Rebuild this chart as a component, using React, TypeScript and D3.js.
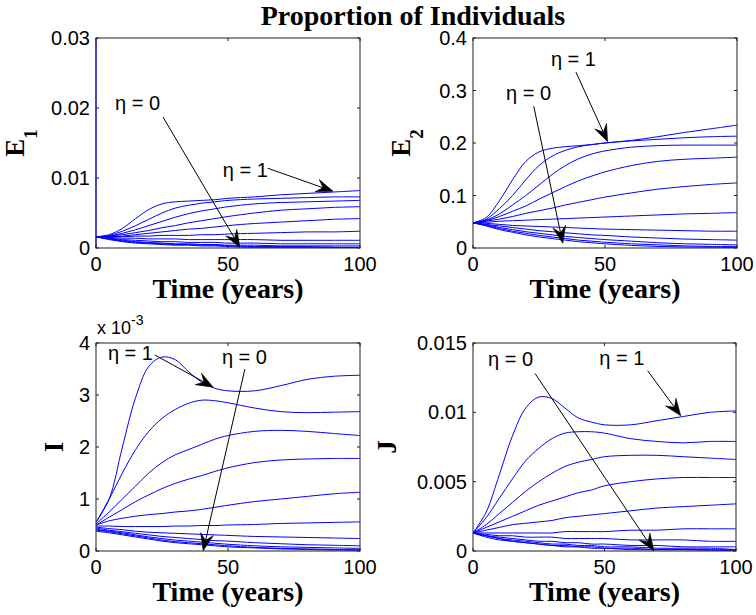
import React from "react";
import * as d3 from "d3";

// ---------- data ----------
const TIME = [0, 5, 10, 15, 20, 25, 30, 35, 40, 45, 50, 60, 70, 80, 90, 100];
const X_TICKS = [0, 50, 100];

// each series: eta = 1, 0.9, ..., 0
const E1_SERIES = [
  [0.0016, 0.0019, 0.0028, 0.0042, 0.0055, 0.0063, 0.0066, 0.0067, 0.0068, 0.0069, 0.0071, 0.0073, 0.0076, 0.0078, 0.008, 0.0082],
  [0.0016, 0.0018, 0.0024, 0.0032, 0.0041, 0.005, 0.0057, 0.0061, 0.0064, 0.0066, 0.0068, 0.007, 0.0071, 0.0072, 0.0073, 0.0073],
  [0.0016, 0.0017, 0.0021, 0.0026, 0.0032, 0.0038, 0.0044, 0.0049, 0.0053, 0.0056, 0.0059, 0.0063, 0.0065, 0.0066, 0.0067, 0.0068],
  [0.0016, 0.0017, 0.0019, 0.0022, 0.0025, 0.0029, 0.0032, 0.0036, 0.0039, 0.0042, 0.0045, 0.005, 0.0054, 0.0056, 0.0058, 0.0059],
  [0.0016, 0.0016, 0.0017, 0.0019, 0.0021, 0.0023, 0.0025, 0.0027, 0.0028, 0.003, 0.0032, 0.0035, 0.0037, 0.0039, 0.0041, 0.0042],
  [0.0016, 0.0016, 0.0016, 0.0017, 0.0017, 0.0018, 0.0018, 0.0018, 0.0019, 0.0019, 0.002, 0.0021, 0.0022, 0.0023, 0.0023, 0.0024],
  [0.0016, 0.0015, 0.0014, 0.0014, 0.0013, 0.0013, 0.0013, 0.0012, 0.0012, 0.0012, 0.0012, 0.0012, 0.0011, 0.0011, 0.0011, 0.0011],
  [0.0016, 0.0014, 0.0012, 0.0011, 0.001, 0.0009, 0.0009, 0.0008, 0.0008, 0.0008, 0.0007, 0.0007, 0.0006, 0.0006, 0.0006, 0.0006],
  [0.0016, 0.0013, 0.0011, 0.0009, 0.0008, 0.0007, 0.0006, 0.0006, 0.0005, 0.0005, 0.0004, 0.0004, 0.0003, 0.0003, 0.0003, 0.0003],
  [0.0016, 0.0013, 0.001, 0.0008, 0.0007, 0.0006, 0.0005, 0.0005, 0.0004, 0.0004, 0.0003, 0.0002, 0.0002, 0.0002, 0.0001, 0.0001],
  [0.0016, 0.0012, 0.0009, 0.0007, 0.0006, 0.0005, 0.0004, 0.0004, 0.0003, 0.0003, 0.0002, 0.0001, 0.0001, 0.0001, 0.0001, 0.00005],
];
const E1_TICKS = [0, 0.01, 0.02, 0.03];

const E2_SERIES = [
  [0.048, 0.058, 0.09, 0.13, 0.165, 0.183, 0.19, 0.193, 0.195, 0.197, 0.2, 0.205, 0.212, 0.22, 0.227, 0.234],
  [0.048, 0.055, 0.075, 0.1, 0.13, 0.157, 0.175, 0.186, 0.193, 0.197, 0.2, 0.204, 0.207, 0.21, 0.212, 0.213],
  [0.048, 0.053, 0.065, 0.082, 0.1, 0.12, 0.14, 0.157, 0.17, 0.179, 0.185, 0.192, 0.195, 0.196, 0.196, 0.196],
  [0.048, 0.052, 0.06, 0.07, 0.08, 0.093, 0.105, 0.117, 0.128, 0.137, 0.145, 0.157, 0.165, 0.169, 0.171, 0.173],
  [0.048, 0.051, 0.055, 0.06, 0.066, 0.071, 0.076, 0.082, 0.087, 0.092, 0.097, 0.105, 0.112, 0.117, 0.121, 0.124],
  [0.048, 0.049, 0.051, 0.052, 0.053, 0.054, 0.055, 0.056, 0.057, 0.058, 0.059, 0.061, 0.063, 0.065, 0.066, 0.0675],
  [0.048, 0.047, 0.045, 0.043, 0.042, 0.041, 0.04, 0.039, 0.038, 0.037, 0.036, 0.035, 0.034, 0.033, 0.032, 0.032],
  [0.048, 0.045, 0.042, 0.039, 0.036, 0.033, 0.031, 0.029, 0.027, 0.025, 0.024, 0.021, 0.019, 0.017, 0.016, 0.015],
  [0.048, 0.044, 0.039, 0.035, 0.031, 0.028, 0.025, 0.022, 0.02, 0.018, 0.016, 0.013, 0.01, 0.008, 0.007, 0.006],
  [0.048, 0.043, 0.037, 0.032, 0.028, 0.024, 0.021, 0.018, 0.015, 0.013, 0.011, 0.008, 0.006, 0.004, 0.003, 0.003],
  [0.048, 0.042, 0.035, 0.03, 0.025, 0.021, 0.018, 0.015, 0.012, 0.01, 0.008, 0.005, 0.003, 0.002, 0.0015, 0.001],
];
const E2_TICKS = [0, 0.1, 0.2, 0.3, 0.4];

// I values in units of 1e-3
const I_SERIES = [
  [0.55, 1.0, 2.0, 2.95, 3.55, 3.73, 3.68, 3.45, 3.25, 3.13, 3.08, 3.08, 3.18, 3.3, 3.36, 3.38],
  [0.55, 1.0, 1.5, 1.95, 2.3, 2.55, 2.72, 2.84, 2.9, 2.89, 2.85, 2.75, 2.68, 2.66, 2.67, 2.68],
  [0.52, 0.75, 1.0, 1.25, 1.5, 1.7, 1.85, 1.95, 2.05, 2.15, 2.22, 2.3, 2.32, 2.3, 2.26, 2.22],
  [0.5, 0.65, 0.8, 0.95, 1.08, 1.2, 1.3, 1.38, 1.45, 1.53, 1.6, 1.7, 1.75, 1.77, 1.78, 1.78],
  [0.5, 0.58, 0.63, 0.67, 0.7, 0.72, 0.75, 0.77, 0.8, 0.84, 0.88, 0.95, 1.0, 1.05, 1.1, 1.13],
  [0.48, 0.48, 0.47, 0.47, 0.47, 0.47, 0.48, 0.48, 0.49, 0.49, 0.5, 0.51, 0.53, 0.54, 0.55, 0.56],
  [0.46, 0.43, 0.41, 0.38, 0.36, 0.35, 0.34, 0.33, 0.32, 0.31, 0.3, 0.28, 0.27, 0.26, 0.25, 0.24],
  [0.44, 0.4, 0.37, 0.34, 0.31, 0.28, 0.26, 0.24, 0.22, 0.2, 0.19, 0.16, 0.14, 0.12, 0.11, 0.1],
  [0.42, 0.38, 0.35, 0.31, 0.27, 0.24, 0.21, 0.19, 0.17, 0.15, 0.13, 0.1, 0.08, 0.07, 0.06, 0.05],
  [0.4, 0.37, 0.33, 0.29, 0.25, 0.21, 0.18, 0.16, 0.14, 0.12, 0.1, 0.07, 0.05, 0.04, 0.03, 0.025],
  [0.38, 0.35, 0.31, 0.27, 0.23, 0.19, 0.16, 0.14, 0.12, 0.1, 0.08, 0.06, 0.04, 0.03, 0.02, 0.015],
];
const I_TICKS = [0, 1, 2, 3, 4];

const J_SERIES = [
  [0.0013, 0.0028, 0.0055, 0.0083, 0.0103, 0.0111, 0.011, 0.0103, 0.0096, 0.0093, 0.0091, 0.0091, 0.0094, 0.0097, 0.01, 0.0101],
  [0.0013, 0.0024, 0.0038, 0.0052, 0.0065, 0.0074, 0.0081, 0.0085, 0.0086, 0.0086, 0.0085, 0.0081, 0.0079, 0.0078, 0.0079, 0.0079],
  [0.0013, 0.0019, 0.0027, 0.0035, 0.0043, 0.005, 0.0056, 0.0061, 0.0064, 0.0066, 0.0068, 0.0069, 0.0069, 0.0068, 0.0067, 0.0066],
  [0.0013, 0.0017, 0.0021, 0.0025, 0.0029, 0.0033, 0.0036, 0.0039, 0.0042, 0.0044, 0.0047, 0.005, 0.0052, 0.0053, 0.0053, 0.0053],
  [0.0013, 0.0015, 0.0017, 0.0019, 0.002, 0.0021, 0.0022, 0.0024, 0.0025, 0.0026, 0.0027, 0.0029, 0.0031, 0.0032, 0.0033, 0.0034],
  [0.0013, 0.0013, 0.0013, 0.0013, 0.0013, 0.0013, 0.0013, 0.0014, 0.0014, 0.0014, 0.0014, 0.0015, 0.0015, 0.0016, 0.0016, 0.0016],
  [0.0013, 0.0012, 0.0011, 0.0011, 0.001, 0.001, 0.001, 0.0009, 0.0009, 0.0009, 0.0009, 0.0008, 0.0008, 0.0008, 0.0007, 0.0007],
  [0.0013, 0.0011, 0.001, 0.0009, 0.0008, 0.0007, 0.0007, 0.0006, 0.0006, 0.0005, 0.0005, 0.0004, 0.0004, 0.0003, 0.0003, 0.0003],
  [0.0013, 0.0011, 0.0009, 0.0008, 0.0007, 0.0006, 0.0005, 0.0005, 0.0004, 0.0004, 0.0003, 0.0003, 0.0002, 0.0002, 0.0002, 0.0001],
  [0.0013, 0.0011, 0.0009, 0.0007, 0.0006, 0.0005, 0.0004, 0.0004, 0.0003, 0.0003, 0.0002, 0.0002, 0.0001, 0.0001, 0.0001, 0.0001],
  [0.0013, 0.001, 0.0008, 0.0007, 0.0006, 0.0005, 0.0004, 0.0003, 0.0003, 0.0002, 0.0002, 0.0001, 0.0001, 0.0001, 0.00005, 0.00005],
];
const J_TICKS = [0, 0.005, 0.01, 0.015];

// annotations: text anchor (tx, ty), arrow tail (x1, y1), arrow head (x2, y2), data units
const E1_NOTES = [
  { text: "η = 0", tx: 7.2, ty: 0.0197, x1: 25.4, y1: 0.0187, x2: 54.5, y2: 0.0001 },
  { text: "η = 1", tx: 48, ty: 0.0101, x1: 65, y1: 0.0114, x2: 89.8, y2: 0.0081 },
];
const E2_NOTES = [
  { text: "η = 1", tx: 29.5, ty: 0.347, x1: 39, y1: 0.335, x2: 51, y2: 0.2025 },
  { text: "η = 0", tx: 12.5, ty: 0.282, x1: 23, y1: 0.27, x2: 34, y2: 0.009 },
];
const I_NOTES = [
  { text: "η = 1", tx: 4.5, ty: 3.67, x1: 22.3, y1: 3.77, x2: 44.4, y2: 3.15 },
  { text: "η = 0", tx: 47.7, ty: 3.6, x1: 56.4, y1: 3.5, x2: 40.6, y2: 0.005 },
];
const J_NOTES = [
  { text: "η = 0", tx: 5.7, ty: 0.01334, x1: 23.6, y1: 0.0128, x2: 68.8, y2: 0.00002 },
  { text: "η = 1", tx: 48, ty: 0.0134, x1: 66.4, y1: 0.013, x2: 79, y2: 0.00975 },
];

const TITLE = "Proportion of Individuals";
const X_LABEL = "Time (years)";

// ---------- layout ----------
const W = 756;
const H = 615;
const SERIF = "'Liberation Serif', 'Times New Roman', serif";
const SANS = "'Liberation Sans', Arial, Helvetica, sans-serif";
const LINE = "#0000ff";
const FRAME = "#1e1e1e";
const TICK_FONT = 20;

type Note = { text: string; tx: number; ty: number; x1: number; y1: number; x2: number; y2: number };
type PanelDef = {
  id: string;
  left: number; top: number; width: number; height: number;
  series: number[][];
  yMax: number;
  yTicks: number[];
  label: string;
  sub?: string;
  labelX: number;
  notes: Note[];
  exponent?: boolean;
  blueLeft?: boolean;
};

const fmt = (v: number) => {
  if (v === 0) return "0";
  return String(+v.toPrecision(6));
};

function Arrow({ x1, y1, x2, y2 }: { x1: number; y1: number; x2: number; y2: number }) {
  const ang = Math.atan2(y2 - y1, x2 - x1);
  const L = 17;
  const hw = 6.5;
  const notch = 0.62;
  const cos = Math.cos(ang);
  const sin = Math.sin(ang);
  const pt = (a: number, b: number) => [x2 + a * cos - b * sin, y2 + a * sin + b * cos];
  const p1 = pt(-L, hw);
  const p2 = pt(-L * notch, 0);
  const p3 = pt(-L, -hw);
  const lineEnd = pt(-L * notch, 0);
  return (
    <g>
      <line x1={x1} y1={y1} x2={lineEnd[0]} y2={lineEnd[1]} stroke="#000" strokeWidth={1} />
      <path d={`M${x2},${y2}L${p1[0]},${p1[1]}L${p2[0]},${p2[1]}L${p3[0]},${p3[1]}Z`} fill="#000" stroke="#000" strokeWidth={0.6} strokeLinejoin="miter" />
    </g>
  );
}

function Panel({ p }: { p: PanelDef }) {
  const x = d3.scaleLinear().domain([0, 100]).range([p.left, p.left + p.width]);
  const y = d3.scaleLinear().domain([0, p.yMax]).range([p.top + p.height, p.top]);
  const line = d3
    .line<number>()
    .x((_, i) => x(TIME[i]))
    .y((d) => y(d))
    .curve(d3.curveCatmullRom.alpha(0.5));
  const tickLen = 3;
  const bottom = p.top + p.height;
  const right = p.left + p.width;
  const cy = p.top + p.height / 2;
  return (
    <g>
      <defs>
        <clipPath id={`clip-${p.id}`}>
          <rect x={p.left} y={p.top} width={p.width} height={p.height} />
        </clipPath>
      </defs>
      <rect x={p.left} y={p.top} width={p.width} height={p.height} fill="#fff" />
      <g clipPath={`url(#clip-${p.id})`}>
        {p.series.map((s, i) => (
          <path key={i} d={line(s) || ""} fill="none" stroke={LINE} strokeWidth={1} />
        ))}
      </g>
      {/* frame */}
      <rect x={p.left} y={p.top} width={p.width} height={p.height} fill="none" stroke={FRAME} strokeWidth={1} />
      {p.blueLeft && (
        <line x1={x(0)} y1={y(0)} x2={x(0)} y2={y(p.yMax)} stroke={LINE} strokeWidth={1} />
      )}
      {/* x ticks */}
      {X_TICKS.map((t) => (
        <g key={`xt${t}`}>
          <line x1={x(t)} x2={x(t)} y1={bottom} y2={bottom - tickLen} stroke={FRAME} />
          <line x1={x(t)} x2={x(t)} y1={p.top} y2={p.top + tickLen} stroke={FRAME} />
          <text x={x(t)} y={bottom + 23} textAnchor="middle" fontFamily={SANS} fontSize={TICK_FONT} fill="#000">
            {fmt(t)}
          </text>
        </g>
      ))}
      {/* y ticks */}
      {p.yTicks.map((t) => (
        <g key={`yt${t}`}>
          <line x1={p.left} x2={p.left + tickLen} y1={y(t)} y2={y(t)} stroke={FRAME} />
          <line x1={right} x2={right - tickLen} y1={y(t)} y2={y(t)} stroke={FRAME} />
          <text x={p.left - 6} y={y(t) + 7} textAnchor="end" fontFamily={SANS} fontSize={TICK_FONT} fill="#000">
            {fmt(t)}
          </text>
        </g>
      ))}
      {p.exponent && (
        <text x={p.left + 1} y={p.top - 9} fontFamily={SANS} fontSize={18} fill="#000">
          x 10
          <tspan dy={-9} fontSize={14}>-3</tspan>
        </text>
      )}
      {/* x label */}
      <text x={(p.left + right) / 2} y={bottom + 50} textAnchor="middle" fontFamily={SERIF} fontWeight="bold" fontSize={28} fill="#000">
        {X_LABEL}
      </text>
      {/* y label */}
      <text
        transform={`translate(${p.labelX},${cy}) rotate(-90)`}
        textAnchor="middle"
        fontFamily={SERIF}
        fontWeight="bold"
        fontSize={27}
        fill="#000"
      >
        {p.label}
        {p.sub && (
          <tspan dy={13} fontSize={19}>
            {p.sub}
          </tspan>
        )}
      </text>
      {/* annotations */}
      {p.notes.map((n, i) => (
        <g key={`n${i}`}>
          <text x={x(n.tx)} y={y(n.ty)} fontFamily={SANS} fontSize={TICK_FONT} fill="#000">
            {n.text}
          </text>
          <Arrow x1={x(n.x1)} y1={y(n.y1)} x2={x(n.x2)} y2={y(n.y2)} />
        </g>
      ))}
    </g>
  );
}

export default function App() {
  const panels: PanelDef[] = [
    { id: "e1", left: 96, top: 38, width: 264, height: 210, series: E1_SERIES, yMax: 0.03, yTicks: E1_TICKS, label: "E", sub: "1", labelX: 24, notes: E1_NOTES, blueLeft: true },
    { id: "e2", left: 473, top: 38, width: 264, height: 210, series: E2_SERIES, yMax: 0.4, yTicks: E2_TICKS, label: "E", sub: "2", labelX: 410, notes: E2_NOTES },
    { id: "i", left: 96, top: 343, width: 264, height: 208, series: I_SERIES, yMax: 4, yTicks: I_TICKS, label: "I", labelX: 63, notes: I_NOTES, exponent: true },
    { id: "j", left: 473, top: 343, width: 263, height: 208, series: J_SERIES, yMax: 0.015, yTicks: J_TICKS, label: "J", labelX: 396, notes: J_NOTES },
  ];
  return (
    <svg width={W} height={H} viewBox={`0 0 ${W} ${H}`} style={{ position: "absolute", left: 0, top: 0, background: "#fff" }}>
      <rect x={0} y={0} width={W} height={H} fill="#fff" />
      <text x={413} y={25} textAnchor="middle" fontFamily={SERIF} fontWeight="bold" fontSize={28} fill="#000">
        {TITLE}
      </text>
      {panels.map((p) => (
        <Panel key={p.id} p={p} />
      ))}
    </svg>
  );
}
